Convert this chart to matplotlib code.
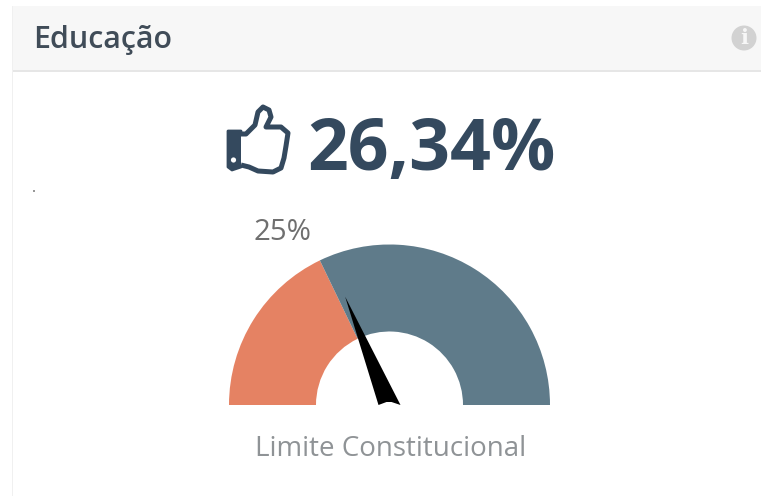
import numpy as np
import matplotlib
matplotlib.use("Agg")
import matplotlib.pyplot as plt
from matplotlib.patches import Wedge, Polygon, PathPatch, Rectangle, Circle
from matplotlib.path import Path

title = "Educação"
headline = "26,34%"
threshold_label = "25%"
caption = "Limite Constitucional"
gauge_min = 0
gauge_max = 70
threshold = 25
value = 26.34

W, H = 761, 496
fig = plt.figure(figsize=(W / 100, H / 100), dpi=100, facecolor="#ffffff")
ax = fig.add_axes([0, 0, 1, 1])
ax.set_xlim(0, W)
ax.set_ylim(0, H)
ax.axis("off")
Y = lambda py: H - py

# panel
ax.add_patch(Rectangle((13, Y(70)), W - 13, 64, fc="#f7f7f7", ec="none"))
ax.add_patch(Rectangle((13, Y(72)), W - 13, 2.5, fc="#e6e6e6", ec="none"))
ax.add_patch(Rectangle((12, Y(H)), 1.2, H - 6, fc="#f0f0f0", ec="none"))
ax.text(33, Y(48), title, fontsize=21.9, family="Open Sans", weight="semibold",
        color="#404c58", va="baseline", ha="left")

# info icon
ax.add_patch(Circle((744, Y(38)), 12.5, fc="#d2d2d2", ec="none"))
ax.text(744, Y(38), "i", fontsize=15, family="DejaVu Serif", weight="bold",
        color="#f7f7f7", va="center", ha="center")

# headline
navy = "#34495e"
ax.text(307, Y(170), headline, fontsize=51.5, family="Open Sans", weight="bold",
        color=navy, va="baseline", ha="left")

# thumb icon
cuff = [(228, 131), (241, 131), (241, 167), (232, 170), (228, 167)]
ax.add_patch(Polygon([(x, Y(y)) for x, y in cuff], fc=navy, ec=navy, lw=2, joinstyle="round"))
ax.add_patch(Circle((233.5, Y(160)), 2.6, fc="white", ec="none"))
hand = [(241, 134), (246, 134), (255, 125), (258, 112), (263, 107), (269, 110), (271, 117),
        (266, 127), (281, 127), (288, 133), (286, 146), (284, 158), (281, 168), (273, 172),
        (258, 171), (249, 167), (241, 165)]
codes = [Path.MOVETO] + [Path.LINETO] * (len(hand) - 1)
ax.add_patch(PathPatch(Path([(x, Y(y)) for x, y in hand], codes), fc="white", ec=navy, lw=3.6, joinstyle="round"))

# stray dot
ax.add_patch(Circle((34, Y(191)), 0.8, fc="#333333", ec="none"))

# gauge
cx, cy, R, r = 389.5, Y(405), 160.5, 73.5
def ang(v):
    return 180 - (v - gauge_min) / (gauge_max - gauge_min) * 180

ax.add_patch(Wedge((cx, cy), R, ang(threshold), 180, width=R - r, fc="#e58263", ec="none"))
ax.add_patch(Wedge((cx, cy), R, 0, ang(threshold), width=R - r, fc="#5f7b8a", ec="none"))

# needle
a = np.deg2rad(ang(value))
L = 117
tip = (cx + L * np.cos(a), cy + L * np.sin(a))
ax.add_patch(Polygon([tip, (cx + 11, cy), (cx + 2, cy + 3), (cx - 3, cy + 3), (cx - 11, cy)],
                     fc="black", ec="none"))

ax.text(282.5, Y(240), threshold_label, fontsize=21.2, family="Open Sans", color="#6f6f6f",
        va="baseline", ha="center")
ax.text(390.5, Y(456), caption, fontsize=20, family="Open Sans", color="#8f9396",
        va="baseline", ha="center")

fig.savefig("out.png", dpi=100, facecolor=fig.get_facecolor())
